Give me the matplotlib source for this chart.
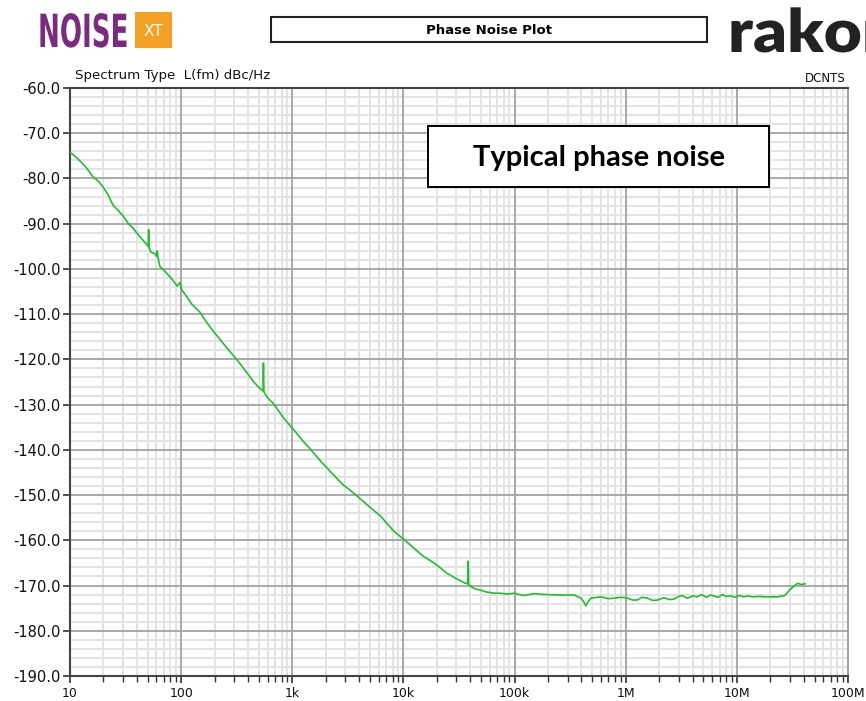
import matplotlib
matplotlib.use("Agg")
import matplotlib.pyplot as plt
from matplotlib.ticker import FixedLocator, NullFormatter
from matplotlib.patches import Rectangle
from matplotlib.patheffects import AbstractPathEffect
from matplotlib.transforms import Affine2D

# ---------------- data ----------------
freq_hz = [10, 11, 12.5, 14, 16.2, 18, 20, 22, 24.5, 27, 30, 33.6, 37, 40, 42.7, 46, 49,
           50.5, 51, 51.5, 53, 55, 58, 60, 61, 62, 64.5, 68, 72, 79, 85, 92, 98, 101,
           110, 125, 148, 165, 188, 224, 260, 306, 350, 400, 448, 500, 545, 550, 556,
           600, 679, 760, 850, 1028, 1222, 1450, 1800, 2200, 2800, 3830, 5000, 6200,
           8200, 10100, 12500, 15200, 17500, 20000, 24700, 30000, 36100, 37800, 38200,
           38600, 41500, 45000, 49400, 55000, 65000, 75000, 85000, 98400, 121000,
           149000, 196000, 260000, 343000, 396000, 420000, 437000, 455000, 485000,
           596000, 700000, 785000, 900000, 1.02e6, 1.15e6, 1.27e6, 1.4e6, 1.57e6,
           1.75e6, 1.93e6, 2.2e6, 2.5e6, 2.72e6, 3.0e6, 3.2e6, 3.6e6, 4.0e6, 4.4e6,
           4.8e6, 5.3e6, 5.8e6, 6.2e6, 6.8e6, 7.4e6, 8.0e6, 8.8e6, 9.6e6, 1.05e7,
           1.15e7, 1.25e7, 1.4e7, 1.6e7, 1.76e7, 2.0e7, 2.32e7, 2.7e7, 3.06e7, 3.52e7,
           3.8e7, 4.1e7]
phase_noise_dbc = [-74.2, -75.0, -76.3, -77.6, -79.7, -80.6, -82.0, -83.6, -86.0, -87.0,
                   -88.3, -90.0, -91.0, -92.1, -92.9, -93.8, -94.6, -95.0, -91.3, -95.3,
                   -96.2, -96.4, -96.6, -97.2, -96.0, -97.6, -99.5, -100.0, -100.6, -101.7,
                   -102.6, -103.8, -103.0, -104.6, -105.8, -107.8, -109.6, -111.4, -113.3,
                   -115.6, -117.6, -119.6, -121.4, -123.3, -124.9, -126.2, -127.0, -120.8,
                   -127.2, -128.5, -129.8, -131.5, -133.2, -135.5, -137.8, -139.8, -142.5,
                   -144.8, -147.5, -150.2, -152.7, -154.6, -158.0, -159.8, -161.8, -163.6,
                   -164.5, -165.5, -167.3, -168.5, -169.5, -169.6, -164.6, -169.8, -170.4,
                   -170.8, -171.0, -171.4, -171.7, -171.7, -171.9, -171.7, -172.2, -171.8,
                   -172.0, -172.1, -172.1, -172.8, -173.6, -174.5, -173.7, -172.8, -172.5,
                   -172.9, -172.8, -172.6, -172.7, -173.2, -173.2, -172.6, -172.8, -173.3,
                   -173.2, -172.7, -173.1, -173.0, -172.4, -172.2, -172.8, -172.3, -172.5,
                   -172.0, -172.6, -172.1, -172.3, -172.6, -172.0, -172.4, -172.3, -172.6,
                   -172.2, -172.5, -172.3, -172.5, -172.4, -172.5, -172.5, -172.5, -172.2,
                   -170.7, -169.5, -169.8, -169.6]

x_major = [10, 100, 1e3, 1e4, 1e5, 1e6, 1e7, 1e8]
x_labels = ["10", "100", "1k", "10k", "100k", "1M", "10M", "100M"]
y_major = [-190, -180, -170, -160, -150, -140, -130, -120, -110, -100, -90, -80, -70, -60]
y_labels = ["%.1f" % v for v in y_major]

W, H = 866, 701
fig = plt.figure(figsize=(W / 100, H / 100), dpi=100)
fig.patch.set_facecolor("white")


def P(x, y):
    return (x / W, 1 - y / H)


class Stretch(AbstractPathEffect):
    """Scale the drawn glyphs about a display point (x0, y0)."""

    def __init__(self, sx, sy, x0, y0):
        super().__init__()
        self.sx, self.sy, self.x0, self.y0 = sx, sy, x0, y0

    def draw_path(self, renderer, gc, tpath, affine, rgbFace=None):
        t = affine + (Affine2D().translate(-self.x0, -self.y0)
                      .scale(self.sx, self.sy).translate(self.x0, self.y0))
        renderer.draw_path(gc, tpath, t, rgbFace)


ax = fig.add_axes([70 / W, 1 - 676 / H, 778 / W, 588 / H])
ax.set_xscale("log")
ax.set_xlim(10, 1e8)
ax.set_ylim(-190, -60)

# grid (minor first, then major on top)
x_minor = [m * 10 ** e for e in range(1, 8) for m in range(2, 10)]
y_minor = [v for v in range(-190, -58, 2) if v % 10 != 0]
for v in x_minor:
    ax.axvline(v, color="#e3e3e3", lw=1.4, zorder=0.2)
for v in y_minor:
    ax.axhline(v, color="#e3e3e3", lw=1.4, zorder=0.2)
for v in x_major[1:-1]:
    ax.axvline(v, color="#a3a3a3", lw=1.3, zorder=0.4)
for v in y_major[1:-1]:
    ax.axhline(v, color="#a3a3a3", lw=1.3, zorder=0.4)

ax.plot(freq_hz, phase_noise_dbc, color="#1fbf2f", lw=1.2, zorder=3)

ax.xaxis.set_major_locator(FixedLocator(x_major))
ax.set_xticklabels(x_labels)
ax.xaxis.set_minor_locator(FixedLocator(x_minor))
ax.xaxis.set_minor_formatter(NullFormatter())
ax.yaxis.set_major_locator(FixedLocator(y_major))
ax.set_yticklabels(y_labels)

ax.tick_params(axis="both", which="major", direction="out", length=5, width=1.2,
               color="#333333", labelcolor="#111111", pad=2)
ax.tick_params(axis="x", which="major", labelsize=9, pad=3)
ax.tick_params(axis="y", which="major", labelsize=10.5)
ax.tick_params(axis="x", which="minor", direction="out", length=4, width=1.0, color="#333333")
for s in ["left", "bottom", "top"]:
    ax.spines[s].set_color("#444444")
    ax.spines[s].set_linewidth(1.5)
ax.spines["right"].set_color("#999999")
ax.spines["right"].set_linewidth(1.3)

# annotation box
fig.patches.append(Rectangle(P(428, 187), 341 / W, 61 / H, transform=fig.transFigure,
                             fc="white", ec="black", lw=1.4, zorder=5))
fig.text(*P(599, 158), "Typical phase noise", fontsize=21, fontweight="bold", family="Lato",
         ha="center", va="center", zorder=6)

# header texts
fig.text(*P(75, 76), "Spectrum Type  L(fm) dBc/Hz", fontsize=9.6, ha="left", va="center",
         color="#111111")
fig.text(*P(846, 79), "DCNTS", fontsize=8.5, ha="right", va="center", color="#111111")

# title box
fig.patches.append(Rectangle(P(271, 42), 436 / W, 25 / H, transform=fig.transFigure,
                             fill=False, ec="#222222", lw=1.5))
fig.text(*P(489, 30), "Phase Noise Plot", fontsize=9.5, fontweight="bold", ha="center",
         va="center")

# NOISE XT logo (tall condensed lettering: small font stretched vertically)
fig.text(*P(38, 47), "NOISE", fontsize=18.8, fontweight="bold", color="#7b2a7f",
         ha="left", va="baseline", path_effects=[Stretch(1.0, 1.75, 38, H - 47)])
fig.patches.append(Rectangle(P(135, 48), 37 / W, 36 / H, transform=fig.transFigure,
                             fc="#f4a024", ec="none"))
fig.text(*P(153.5, 31), "XT", fontsize=11, color="white", ha="center", va="center")

# rakon logo
fig.text(*P(728, 52), "rakon", fontsize=43, fontweight="heavy", color="#222222",
         family="Lato", ha="left", va="baseline", path_effects=[Stretch(1.1, 1.0, 728, H - 52)])

fig.savefig("out.png", dpi=100)
